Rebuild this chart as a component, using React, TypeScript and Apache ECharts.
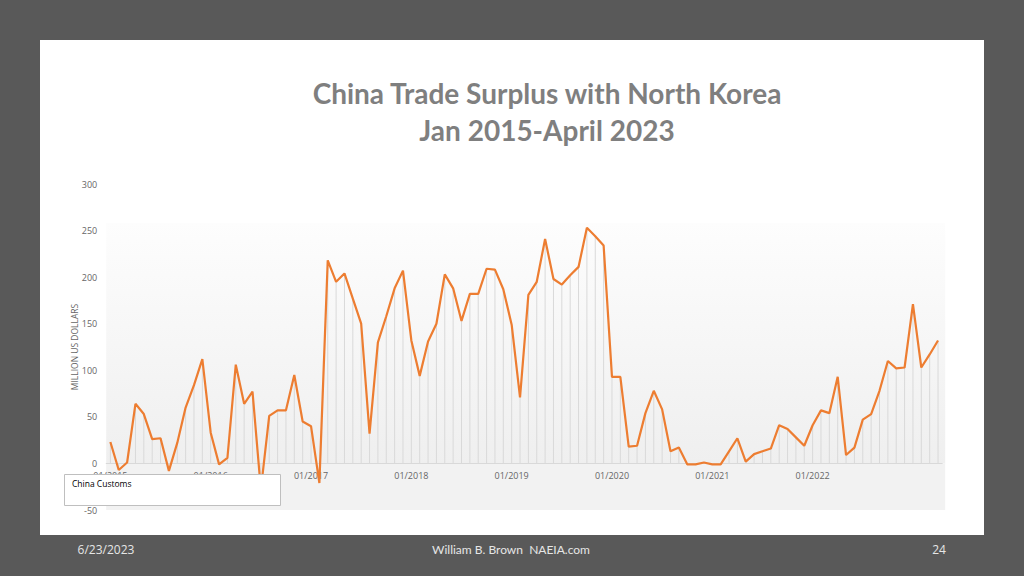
import React, { useEffect, useRef } from "react";
import * as echarts from "echarts";

const years = ["2015", "2016", "2017", "2018", "2019", "2020", "2021", "2022", "2023"];
const monthNums = ["01", "02", "03", "04", "05", "06", "07", "08", "09", "10", "11", "12"];
const categories: string[] = [];
years.forEach((y) => monthNums.forEach((m) => categories.push(m + "/" + y)));
categories.length = 100; // Jan 2015 - Apr 2023

const surplus2015 = [23, -7, 1, 64, 53, 26, 27, -8, 22, 60, 84, 112];
const surplus2016 = [33, -1, 6, 106, 64, 77, -28, 51, 57, 57, 95, 45];
const surplus2017 = [40, -21, 218, 195, 204, 177, 150, 32, 130, 158, 188, 207];
const surplus2018 = [132, 94, 131, 150, 203, 188, 153, 182, 182, 209, 208, 187];
const surplus2019 = [149, 71, 181, 195, 241, 198, 192, 202, 211, 253, 244, 234];
const surplus2020 = [93, 93, 18, 19, 54, 78, 58, 13, 17, -1, -1, 1];
const surplus2021 = [-1, -1, 13, 27, 2, 10, 13, 16, 41, 37, 28, 19];
const surplus2022 = [41, 57, 54, 93, 9, 17, 47, 53, 78, 110, 102, 103];
const surplus2023 = [171, 103, 117, 132];

const values = [
  ...surplus2015,
  ...surplus2016,
  ...surplus2017,
  ...surplus2018,
  ...surplus2019,
  ...surplus2020,
  ...surplus2021,
  ...surplus2022,
  ...surplus2023,
];

const titleLines = ["China Trade Surplus with North Korea", "Jan 2015-April 2023"];
const yAxisTitle = "MILLION US DOLLARS";
const legendLabel = "China Customs";
const footerDate = "6/23/2023";
const footerCenter = "William B. Brown  NAEIA.com";
const footerPage = "24";

export default function App() {
  const ref = useRef<HTMLDivElement>(null);
  useEffect(() => {
    if (!ref.current) return;
    const chart = echarts.init(ref.current, null, { renderer: "svg" });
    const gl = 106.2;
    const gw = 836;
    const gt = 184;
    const gh = 326;
    const zeroY = 463.4;
    chart.setOption({
      animation: false,
      backgroundColor: "#595959",
      grid: [
        { left: gl, width: gw, top: gt, height: gh, containLabel: false },
        { left: gl, width: gw, top: gt, height: zeroY - gt, containLabel: false },
      ],
      xAxis: [
        {
          type: "category",
          gridIndex: 0,
          data: categories,
          boundaryGap: true,
          axisLine: { show: false },
          axisTick: { show: false },
          splitLine: { show: false },
          axisLabel: { show: false },
        },
        {
          type: "category",
          gridIndex: 1,
          data: categories,
          boundaryGap: true,
          position: "bottom",
          axisLine: { show: true, onZero: false, lineStyle: { color: "#d9d9d9", width: 1 } },
          axisTick: { show: false },
          splitLine: { show: false },
          axisLabel: {
            interval: (index: number) => index % 12 === 0 && index < 96,
            color: "#666666",
            fontFamily: "Open Sans",
            fontSize: 9,
            margin: 8,
          },
        },
      ],
      yAxis: [
        {
          type: "value",
          gridIndex: 0,
          min: -50,
          max: 300,
          interval: 50,
          axisLine: { show: false },
          axisTick: { show: false },
          splitLine: { show: false },
          axisLabel: { color: "#666666", fontFamily: "Open Sans", fontSize: 9, margin: 9 },
        },
        {
          type: "value",
          gridIndex: 1,
          min: 0,
          max: 300,
          show: false,
          splitLine: { show: false },
        },
      ],
      graphic: [
        { type: "rect", z: -100, shape: { x: 40, y: 40, width: 944, height: 495 }, style: { fill: "#ffffff" } },
        {
          type: "rect",
          z: -90,
          shape: { x: gl, y: 223, width: 839, height: zeroY - 223 },
          style: {
            fill: new echarts.graphic.LinearGradient(0, 0, 0, 1, [
              { offset: 0, color: "#fdfdfd" },
              { offset: 1, color: "#efefef" },
            ]),
          },
        },
        { type: "rect", z: -90, shape: { x: gl, y: zeroY, width: 839, height: 510 - zeroY }, style: { fill: "#f2f2f2" } },
        {
          type: "text",
          x: 547,
          y: 93,
          style: {
            text: titleLines[0],
            fill: "#7f7f7f",
            font: "bold 28px Lato",
            textAlign: "center",
            textVerticalAlign: "middle",
          },
        },
        {
          type: "text",
          x: 547,
          y: 130,
          style: {
            text: titleLines[1],
            fill: "#7f7f7f",
            font: "bold 28px Lato",
            textAlign: "center",
            textVerticalAlign: "middle",
          },
        },
        {
          type: "text",
          x: 74,
          y: 347,
          rotation: Math.PI / 2,
          style: {
            text: yAxisTitle,
            fill: "#666666",
            font: "8.5px 'Open Sans'",
            textAlign: "center",
            textVerticalAlign: "middle",
          },
        },
        {
          type: "rect",
          z: 100,
          shape: { x: 64.5, y: 474.5, width: 216, height: 31 },
          style: { fill: "#ffffff", stroke: "#bfbfbf", lineWidth: 1 },
        },
        {
          type: "text",
          z: 101,
          x: 72,
          y: 483,
          style: {
            text: legendLabel,
            fill: "#000000",
            font: "8.5px 'Open Sans'",
            textAlign: "left",
            textVerticalAlign: "middle",
          },
        },
        {
          type: "text",
          x: 106,
          y: 549,
          style: { text: footerDate, fill: "#e6e6e6", font: "12px 'Open Sans'", textAlign: "center", textVerticalAlign: "middle" },
        },
        {
          type: "text",
          x: 511,
          y: 549,
          style: { text: footerCenter, fill: "#e6e6e6", font: "12px Lato", textAlign: "center", textVerticalAlign: "middle" },
        },
        {
          type: "text",
          x: 939,
          y: 549,
          style: { text: footerPage, fill: "#e6e6e6", font: "12px 'Open Sans'", textAlign: "center", textVerticalAlign: "middle" },
        },
      ],
      series: [
        {
          type: "bar",
          xAxisIndex: 0,
          yAxisIndex: 0,
          data: values,
          barWidth: 1,
          itemStyle: { color: "#d9d9d9" },
          z: 1,
          silent: true,
        },
        {
          type: "line",
          xAxisIndex: 0,
          yAxisIndex: 0,
          data: values,
          symbol: "none",
          lineStyle: { color: "#ED7D31", width: 2.2 },
          z: 3,
        },
      ],
    });
    return () => chart.dispose();
  }, []);
  return <div ref={ref} style={{ position: "fixed", left: 0, top: 0, width: 1024, height: 576 }} />;
}
